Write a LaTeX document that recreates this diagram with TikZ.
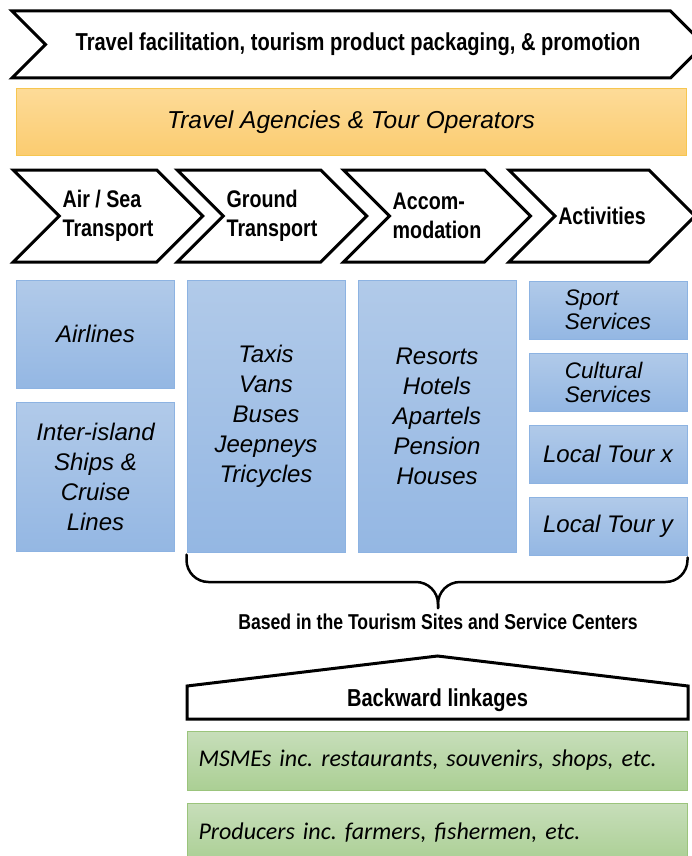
\documentclass[tikz,border=0pt]{standalone}
\usepackage{fontspec}
\setmainfont{Liberation Sans}
\newfontfamily\narrowfont[FakeStretch=0.82]{Liberation Sans}
\newfontfamily\greenfont{Carlito}
\usetikzlibrary{shapes.symbols,positioning}
\frenchspacing

\definecolor{agencyTop}{RGB}{253,219,152}
\definecolor{agencyBot}{RGB}{251,204,112}
\definecolor{agencyLine}{RGB}{246,198,80}
\definecolor{blueTop}{RGB}{177,202,233}
\definecolor{blueBot}{RGB}{148,183,227}
\definecolor{blueLine}{RGB}{141,179,226}
\definecolor{greenTop}{RGB}{199,222,186}
\definecolor{greenBot}{RGB}{171,207,148}
\definecolor{greenLine}{RGB}{155,196,124}

\begin{document}
\begin{tikzpicture}[x=1pt,y=-1pt]
        \tikzstyle{chevron} = [signal, signal from=west, signal to=east, signal pointer angle=90, draw=black, line width=3pt, fill=white, minimum width=186, minimum height=92, align=left, font=\narrowfont\bfseries\fontsize{24}{29}\selectfont]
        \tikzstyle{supplier} = [rectangle, top color=blueTop, bottom color=blueBot, draw=blueLine, line width=1pt, minimum width=158, align=center, font=\itshape\fontsize{24}{30}\selectfont]
        \tikzstyle{activity} = [supplier, minimum height=58, align=left]
        \tikzstyle{linkage} = [rectangle, top color=greenTop, bottom color=greenBot, draw=greenLine, line width=1pt, minimum width=500, minimum height=59, text width=478, inner xsep=11, align=left, font=\greenfont\itshape\fontsize{24}{28}\selectfont]
        \tikzstyle{brace} = [line width=2.5pt, rounded corners=22, line cap=round]

                \useasboundingbox (0,0) rectangle (691,856);

                \node (promo) [chevron, minimum width=692, minimum height=67, font=\narrowfont\bfseries\fontsize{24.5}{29}\selectfont] at (358,44.5) {Travel facilitation, tourism product packaging, \& promotion};
                \node (agency) [rectangle, top color=agencyTop, bottom color=agencyBot, draw=agencyLine, line width=1pt, minimum width=670, minimum height=66, font=\itshape\fontsize{24.5}{29}\selectfont] at (351,122) {Travel Agencies \& Tour Operators};

                \node (airsea) [chevron] at (108,216) {Air / Sea\\Transport};
                \node (groundtr) [chevron] at (272,216) {Ground\\Transport};
                \node (accom) [chevron] at (437,216) {Accom-\\modation};
                \node (activ) [chevron] at (602,216) {Activities};

                \node (airlines) [supplier, minimum height=108] at (95.5,334) {Airlines};
                \node (ships) [supplier, minimum height=149, below=13pt of airlines] {Inter-island\\Ships \&\\Cruise\\Lines};
                \node (ground) [supplier, minimum height=272] at (266,416) {Taxis\\Vans\\Buses\\Jeepneys\\Tricycles};
                \node (lodging) [supplier, minimum height=272] at (437,416) {Resorts\\Hotels\\Apartels\\Pension\\Houses};
                \node (sport) [activity, font=\itshape\fontsize{22.5}{24}\selectfont] at (608,310) {Sport\\Services};
                \node (cultural) [activity, font=\itshape\fontsize{22.5}{24}\selectfont, below=13pt of sport] {Cultural\\Services};
                \node (tourx) [activity, below=13pt of cultural] {Local Tour x};
                \node (toury) [activity, below=13pt of tourx] {Local Tour y};

                \coordinate (bend) at (438,582);
                \coordinate (tip) at (438,608);
                \draw[brace] ([yshift=-2pt]ground.south west) -- (ground.south west |- bend) -- (bend) -- (tip);
                \draw[brace] ([yshift=-2pt]toury.south east) -- (toury.south east |- bend) -- (bend) -- (tip);
                \node (based) [font=\narrowfont\bfseries\fontsize{21.5}{24}\selectfont] at (438,622) {Based in the Tourism Sites and Service Centers};

                \draw[line width=3pt, fill=white] (187,686) -- (437.5,656) -- (688,686) -- (688,719) -- (187,719) -- cycle;
                \node (backward) [font=\narrowfont\bfseries\fontsize{24.5}{29}\selectfont] at (437.5,700) {Backward linkages};

                \node (msme) [linkage] at (437.5,760.5) {MSMEs inc. restaurants, souvenirs, shops, etc.};
                \node (producers) [linkage, below=12pt of msme] {Producers inc. farmers, fishermen, etc.};

    \end{tikzpicture}
\end{document}
